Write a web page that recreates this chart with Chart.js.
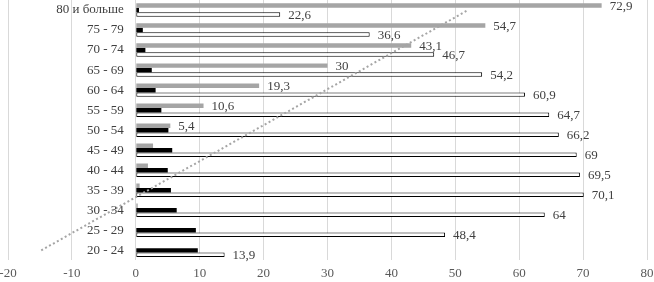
<!DOCTYPE html>
<html>
<head>
<meta charset="utf-8">
<script src="https://cdn.jsdelivr.net/npm/chart.js"></script>
<style>
  html, body { margin: 0; padding: 0; background: #fff; }
  #wrap { width: 654px; height: 282px; }
</style>
</head>
<body>
<div id="wrap"><canvas id="barChart"></canvas></div>
<script>
// age groups, top to bottom
const labels = [
  '80 и больше',
  '75 - 79',
  '70 - 74',
  '65 - 69',
  '60 - 64',
  '55 - 59',
  '50 - 54',
  '45 - 49',
  '40 - 44',
  '35 - 39',
  '30 - 34',
  '25 - 29',
  '20 - 24'
];
const grayValues  = [72.9, 54.7, 43.1, 30, 19.3, 10.6, 5.4, 2.7, 1.9, 0.6, 0.3, 0, 0];
const blackValues = [0.5, 1.1, 1.5, 2.5, 3.1, 4.0, 5.1, 5.7, 5.0, 5.5, 6.4, 9.4, 9.7];
const whiteValues = [22.6, 36.6, 46.7, 54.2, 60.9, 64.7, 66.2, 69, 69.5, 70.1, 64, 48.4, 13.9];
// dotted trend line of the gray series: value at '20 - 24' and at '80 и больше'
const trendStart = -14.8;
const trendEnd = 52;
const xMin = -20, xMax = 80, xStep = 10;

const serif = 'Liberation Serif';

// category names sit left of the zero line, inside the plot
const categoryLabels = {
  id: 'categoryLabels',
  afterDraw(chart) {
    const ctx = chart.ctx;
    const x0 = chart.scales.x.getPixelForValue(0);
    const yScale = chart.scales.y;
    ctx.save();
    ctx.font = '13px "' + serif + '"';
    ctx.fillStyle = '#404040';
    ctx.textAlign = 'right';
    ctx.textBaseline = 'middle';
    chart.data.labels.forEach((name, i) => {
      ctx.fillText(name, x0 - 12, yScale.getPixelForTick(i));
    });
    ctx.restore();
  }
};

// value labels right of the bars (gray ones only where they are readable)
const valueLabels = {
  id: 'valueLabels',
  afterDatasetsDraw(chart) {
    const ctx = chart.ctx;
    ctx.save();
    ctx.font = '13px "' + serif + '"';
    ctx.fillStyle = '#404040';
    ctx.textAlign = 'left';
    ctx.textBaseline = 'middle';
    [0, 2].forEach(di => {
      const values = chart.data.datasets[di].data;
      chart.getDatasetMeta(di).data.forEach((bar, i) => {
        if (di === 0 && values[i] < 5) return;
        ctx.fillText(String(values[i]).replace('.', ','), bar.x + 8, bar.y + 1);
      });
    });
    ctx.restore();
  }
};

const barChart = document.getElementById('barChart');

new Chart(barChart, {
  type: 'bar',
  data: {
    labels: labels,
    datasets: [
      {
        data: grayValues,
        backgroundColor: '#A5A5A5',
        order: 1
      },
      {
        data: blackValues,
        backgroundColor: '#000000',
        order: 1
      },
      {
        data: whiteValues,
        backgroundColor: '#FFFFFF',
        borderColor: '#000000',
        borderWidth: 1,
        borderSkipped: false,
        order: 1
      },
      {
        type: 'line',
        indexAxis: 'y',
        data: [
          { x: trendStart, y: labels[labels.length - 1] },
          { x: trendEnd, y: labels[0] }
        ],
        borderColor: '#A5A5A5',
        borderWidth: 2,
        borderDash: [2, 2.5],
        pointRadius: 0,
        fill: false,
        order: 0
      }
    ]
  },
  options: {
    indexAxis: 'y',
    responsive: true,
    maintainAspectRatio: false,
    animation: false,
    categoryPercentage: 0.67,
    barPercentage: 1.0,
    layout: { padding: { left: 8, right: 7, top: -3, bottom: -4 } },
    plugins: {
      legend: { display: false },
      tooltip: { enabled: false }
    },
    scales: {
      x: {
        min: xMin,
        max: xMax,
        ticks: {
          stepSize: xStep,
          color: '#595959',
          font: { family: serif, size: 13 },
          padding: 5
        },
        grid: { color: '#D9D9D9', drawTicks: false },
        border: { display: false },
        afterFit(s) { s.paddingLeft = 0; s.paddingRight = 0; }
      },
      y: {
        position: { x: 0 },
        grid: { display: false, drawTicks: false },
        border: { display: false },
        ticks: { display: false },
        afterFit(s) { s.paddingTop = 0; s.paddingBottom = 0; }
      }
    }
  },
  plugins: [categoryLabels, valueLabels]
});
</script>
</body>
</html>
